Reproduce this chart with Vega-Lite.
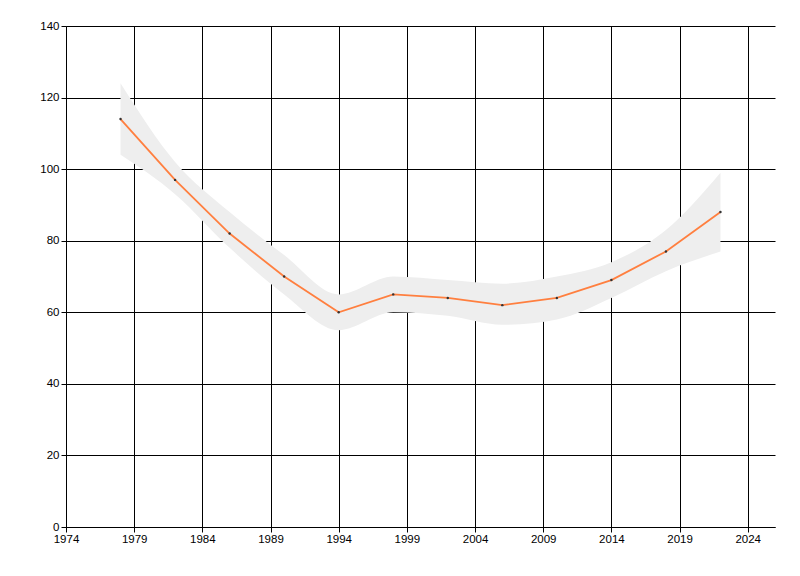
{
  "$schema": "https://vega.github.io/schema/vega-lite/v6.json",
  "autosize": "none",
  "padding": {"left": 66, "top": 26, "right": 25, "bottom": 49},
  "width": 709,
  "height": 501,
  "background": "white",
  "config": {
    "font": "Liberation Sans",
    "view": {"stroke": null},
    "axis": {
      "grid": true,
      "gridColor": "#000000",
      "gridOpacity": 1,
      "gridWidth": 1,
      "domainColor": "#000000",
      "domainWidth": 1,
      "tickColor": "#000000",
      "tickSize": 5,
      "labelColor": "#000000",
      "labelFont": "Liberation Sans",
      "labelFontSize": 11.5,
      "title": null
    }
  },
  "data": {
    "values": [
      {"year": 1978, "value": 114, "lower": 104, "upper": 124},
      {"year": 1982, "value": 97, "lower": 93, "upper": 102},
      {"year": 1986, "value": 82, "lower": 78, "upper": 88},
      {"year": 1990, "value": 70, "lower": 65, "upper": 76},
      {"year": 1994, "value": 60, "lower": 55, "upper": 65},
      {"year": 1998, "value": 65, "lower": 60, "upper": 70},
      {"year": 2002, "value": 64, "lower": 59, "upper": 69},
      {"year": 2006, "value": 62, "lower": 56.5, "upper": 68},
      {"year": 2010, "value": 64, "lower": 58, "upper": 70},
      {"year": 2014, "value": 69, "lower": 64, "upper": 74},
      {"year": 2018, "value": 77, "lower": 71.5, "upper": 83},
      {"year": 2022, "value": 88, "lower": 77, "upper": 99}
    ]
  },
  "encoding": {
    "x": {
      "field": "year",
      "type": "quantitative",
      "scale": {"domain": [1974, 2026], "nice": false, "zero": false},
      "axis": {
        "values": [1974, 1979, 1984, 1989, 1994, 1999, 2004, 2009, 2014, 2019, 2024],
        "format": "d",
        "labelPadding": 1,
        "labelFlush": false
      }
    }
  },
  "layer": [
    {
      "mark": {"type": "area", "interpolate": "monotone", "color": "#EEEEEE", "opacity": 1},
      "encoding": {
        "y": {
          "field": "lower",
          "type": "quantitative",
          "scale": {"domain": [0, 140], "nice": false},
          "axis": {"values": [0, 20, 40, 60, 80, 100, 120, 140], "labelPadding": 2}
        },
        "y2": {"field": "upper"}
      }
    },
    {
      "mark": {"type": "line", "color": "#FF7F3F", "strokeWidth": 1.8},
      "encoding": {
        "y": {"field": "value", "type": "quantitative"}
      }
    },
    {
      "mark": {"type": "point", "filled": true, "color": "#333333", "size": 6, "opacity": 1},
      "encoding": {
        "y": {"field": "value", "type": "quantitative"}
      }
    }
  ]
}
